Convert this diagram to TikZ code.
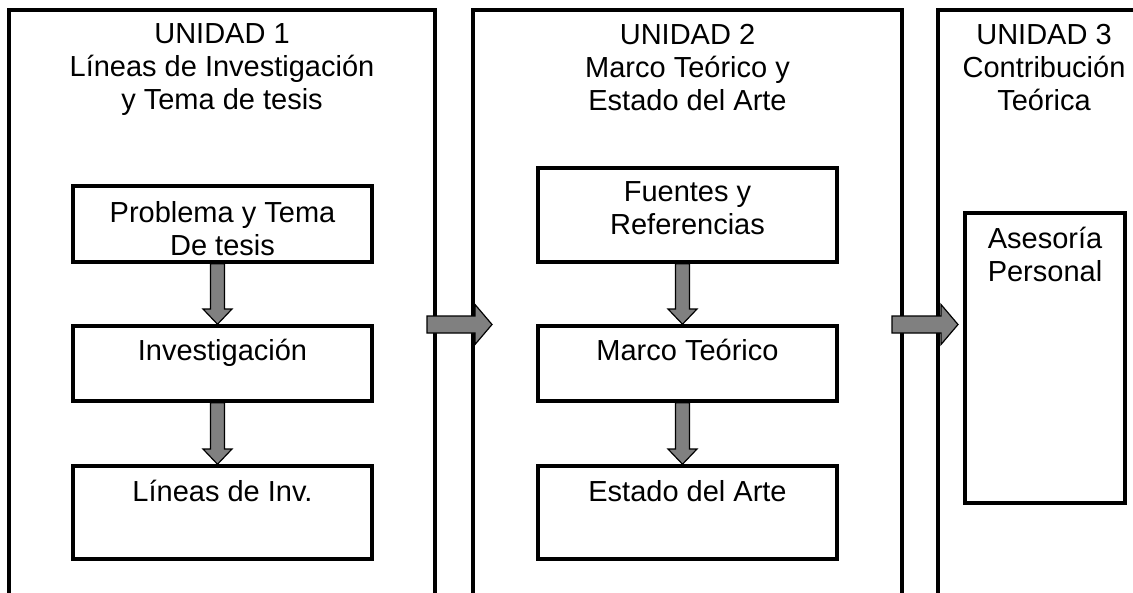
\documentclass[tikz,border=0pt]{standalone}
\usepackage{fontspec}
\setmainfont{Liberation Sans}
\usetikzlibrary{calc}
\begin{document}
\begin{tikzpicture}[x=1pt,y=-1pt,
  unitbox/.style={draw=black,line width=3.2pt,rectangle,inner sep=0pt,outer sep=0pt,anchor=north,minimum height=700pt},
  stepbox/.style={draw=black,fill=white,line width=3.5pt,rectangle,inner sep=0pt,outer sep=0pt,minimum width=299pt},
  txt/.style={inner sep=0pt,outer sep=0pt,anchor=north,align=center,font=\fontsize{29}{33}\selectfont},
  blockarrow/.style={draw=black,fill=black!50,line width=1.2pt,line join=miter}
]
\useasboundingbox (0,0) rectangle (1133,592);
\clip (0,0) rectangle (1133,592);
\fill[white] (0,0) rectangle (1133,592);

% unit frames
\node[unitbox,minimum width=426pt] (unit1) at (222,10) {};
\node[unitbox,minimum width=429pt] (unit2) at (687.5,10) {};
\node[unitbox,minimum width=212pt] (unit3) at (1044,10) {};

% titles
\node[txt] (title1) at (222,24) {UNIDAD 1\\Líneas de Investigación\\y Tema de tesis};
\node[txt] (title2) at (687.5,24) {UNIDAD 2\\Marco Teórico y\\Estado del Arte};
\node[txt] (title3) at (1044,24) {UNIDAD 3\\Contribución\\Teórica};

% unit 1 boxes
\node[stepbox,minimum height=76pt] (prob) at (222.5,224) {};
\node[stepbox,minimum height=75pt] (inv) at (222.5,363.5) {};
\node[stepbox,minimum height=93pt] (lin) at (222.5,512.5) {};
% unit 2 boxes
\node[stepbox,minimum height=94pt] (fue) at (687.5,215) {};
\node[stepbox,minimum height=75pt] (mar) at (687.5,363.5) {};
\node[stepbox,minimum height=93pt] (est) at (687.5,512.5) {};
% unit 3 box
\node[stepbox,minimum width=160pt,minimum height=290pt] (ase) at (1045,358) {};

% box texts
\node[txt] (probt) at (222.5,201) {Problema y Tema\\De tesis};
\node[txt] (invt) at (222.5,339) {Investigación};
\node[txt] (lint) at (222.5,480) {Líneas de Inv.};
\node[txt] (fuet) at (687.5,182) {Fuentes y\\Referencias};
\node[txt] (mart) at (687.5,339) {Marco Teórico};
\node[txt] (estt) at (687.5,480) {Estado del Arte};
\node[txt] (aset) at (1045,227) {Asesoría\\Personal};

% vertical block arrows
\newcommand\vblock[2]{%
  \draw[blockarrow] ($(#1.south)+(-12,1.8)$) -- ($(#1.south)+(2,1.8)$)
    -- ($(#2.north)+(2,-17)$) -- ($(#2.north)+(9.5,-17)$)
    -- ($(#2.north)+(-5,-1.8)$) -- ($(#2.north)+(-19.5,-17)$)
    -- ($(#2.north)+(-12,-17)$) -- cycle;}
\vblock{prob}{inv}
\vblock{inv}{lin}
\vblock{fue}{mar}
\vblock{mar}{est}

% horizontal block arrows
\coordinate (h1s) at (427,324.5);
\coordinate (h1e) at (492,324.5);
\coordinate (h2s) at (892,324.5);
\coordinate (h2e) at (958,324.5);
\newcommand\hblock[2]{%
  \draw[blockarrow] ($(#1)+(0,-8.5)$) -- ($(#2)+(-17,-8.5)$)
    -- ($(#2)+(-17,-20)$) -- (#2) -- ($(#2)+(-17,20)$)
    -- ($(#2)+(-17,8.5)$) -- ($(#1)+(0,8.5)$) -- cycle;}
\hblock{h1s}{h1e}
\hblock{h2s}{h2e}
\end{tikzpicture}
\end{document}
